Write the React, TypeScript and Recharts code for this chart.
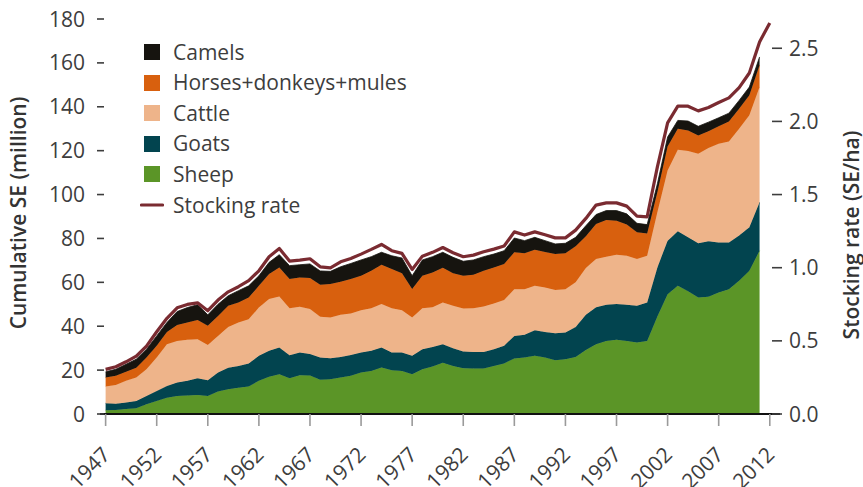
import React from 'react';
import { ComposedChart, Area, Line, XAxis, YAxis, Legend } from 'recharts';

const years = [
  1947, 1948, 1949, 1950, 1951, 1952, 1953, 1954, 1955, 1956, 1957,
  1958, 1959, 1960, 1961, 1962, 1963, 1964, 1965, 1966, 1967,
  1968, 1969, 1970, 1971, 1972, 1973, 1974, 1975, 1976, 1977,
  1978, 1979, 1980, 1981, 1982, 1983, 1984, 1985, 1986, 1987,
  1988, 1989, 1990, 1991, 1992, 1993, 1994, 1995, 1996, 1997,
  1998, 1999, 2000, 2001, 2002, 2003, 2004, 2005, 2006, 2007,
  2008, 2009, 2010, 2011, 2012,
];

const sheep = [
  1.7, 1.8, 2.3, 2.6, 4.4, 5.9, 7.4, 8.2, 8.4, 8.7, 8.2,
  10.2, 11.3, 12.0, 12.5, 15.1, 17.0, 18.1, 16.3, 17.7, 17.5,
  15.6, 15.8, 16.6, 17.4, 18.9, 19.6, 21.2, 19.9, 19.6, 18.1,
  20.4, 21.6, 23.4, 21.9, 20.9, 20.7, 20.7, 21.9, 23.0, 25.3,
  25.7, 26.5, 25.7, 24.5, 25.0, 26.0, 29.2, 31.8, 33.3, 33.8,
  33.3, 32.6, 33.3, 44.4, 54.6, 58.4, 55.9, 53.1, 53.4, 55.4,
  56.9, 60.7, 65.3, 74.4,
];

const goats = [
  3.2, 2.9, 2.9, 3.3, 3.8, 4.6, 5.4, 6.1, 6.7, 7.6, 7.2,
  8.7, 9.8, 9.9, 10.5, 11.4, 11.8, 12.2, 10.5, 10.3, 9.8,
  10.1, 9.6, 9.4, 9.5, 9.1, 9.2, 9.1, 8.1, 8.4, 8.4,
  9.1, 8.9, 8.4, 8.1, 7.6, 7.6, 7.6, 7.6, 8.1, 10.3,
  10.4, 11.7, 11.7, 12.3, 12.1, 13.7, 16.0, 16.8, 16.5, 16.3,
  16.5, 16.7, 17.5, 22.4, 24.4, 24.9, 24.6, 24.7, 25.3, 22.8,
  21.3, 20.6, 19.8, 22.1,
];

const cattle = [
  7.6, 8.5, 9.9, 10.7, 12.2, 15.2, 19.0, 19.0, 18.7, 17.8, 16.1,
  16.7, 18.6, 19.8, 20.2, 22.0, 23.6, 23.3, 21.4, 20.9, 20.5,
  18.6, 18.6, 19.2, 18.9, 19.3, 19.4, 19.8, 20.2, 19.3, 17.5,
  18.7, 18.2, 19.0, 19.3, 19.6, 19.9, 20.7, 20.9, 20.8, 21.3,
  20.8, 20.2, 20.3, 19.7, 19.7, 20.3, 21.3, 22.0, 21.9, 22.5,
  22.3, 21.3, 21.3, 25.1, 32.0, 37.1, 39.3, 40.8, 42.5, 44.9,
  46.0, 48.7, 51.0, 52.5,
];

const horses = [
  4.1, 4.2, 4.2, 4.5, 5.3, 5.4, 5.6, 7.3, 7.9, 8.7, 8.7,
  9.1, 9.6, 9.1, 9.9, 9.9, 11.4, 13.2, 13.3, 13.3, 14.2,
  14.6, 15.2, 15.1, 15.7, 15.7, 17.1, 17.9, 17.9, 16.8, 13.0,
  14.8, 15.8, 15.9, 14.8, 14.9, 15.3, 16.3, 16.4, 16.4, 16.8,
  16.3, 16.5, 16.1, 16.4, 16.4, 16.4, 14.5, 16.0, 16.7, 15.5,
  14.2, 12.2, 10.2, 9.2, 10.9, 9.6, 9.4, 8.3, 7.7, 8.0,
  9.1, 9.1, 9.1, 9.9,
];

const camels = [
  2.6, 3.0, 3.4, 3.9, 3.8, 4.5, 4.3, 6.1, 6.8, 7.0, 5.0,
  5.3, 4.6, 5.4, 5.3, 4.6, 5.3, 5.8, 6.1, 5.8, 6.4,
  6.3, 5.8, 6.8, 7.1, 7.2, 6.4, 5.7, 6.0, 7.0, 6.0,
  7.2, 7.2, 7.0, 7.3, 6.6, 6.7, 6.4, 6.1, 6.1, 6.5,
  5.8, 5.6, 5.2, 4.6, 4.6, 4.1, 4.8, 4.3, 4.3, 4.6,
  4.9, 4.1, 4.0, 3.8, 4.3, 3.8, 4.3, 4.2, 4.1, 3.9,
  3.8, 3.8, 3.8, 3.8,
];

const stockingRate = [
  0.305, 0.323, 0.357, 0.396, 0.464, 0.562, 0.654, 0.726, 0.749, 0.760, 0.706,
  0.779, 0.835, 0.870, 0.911, 0.979, 1.075, 1.132, 1.045, 1.052, 1.061,
  1.006, 0.999, 1.040, 1.063, 1.093, 1.125, 1.159, 1.116, 1.098, 0.988,
  1.079, 1.105, 1.138, 1.102, 1.075, 1.086, 1.109, 1.127, 1.148, 1.245,
  1.223, 1.245, 1.225, 1.204, 1.204, 1.257, 1.337, 1.428, 1.443, 1.443,
  1.421, 1.352, 1.348, 1.689, 1.990, 2.104, 2.104, 2.072, 2.095, 2.129,
  2.161, 2.231, 2.331, 2.543, 2.673,
];

const xTicks = [1947, 1952, 1957, 1962, 1967, 1972, 1977, 1982, 1987, 1992, 1997, 2002, 2007, 2012];
const leftTicks = [0, 20, 40, 60, 80, 100, 120, 140, 160, 180];
const rightTicks = [0, 0.5, 1.0, 1.5, 2.0, 2.5];

const FONT = '"Open Sans", "DejaVu Sans", sans-serif';
const TEXT = '#3d3d3d';

const COLORS = {
  sheep: '#5b9527',
  goats: '#02444f',
  cattle: '#eeb48a',
  horses: '#d8600e',
  camels: '#16140f',
  rate: '#7a2b31',
};

const legendItems = [
  { label: 'Camels', color: COLORS.camels, kind: 'square' },
  { label: 'Horses+donkeys+mules', color: COLORS.horses, kind: 'square' },
  { label: 'Cattle', color: COLORS.cattle, kind: 'square' },
  { label: 'Goats', color: COLORS.goats, kind: 'square' },
  { label: 'Sheep', color: COLORS.sheep, kind: 'square' },
  { label: 'Stocking rate', color: COLORS.rate, kind: 'line' },
];

const pick = (arr: number[], i: number) => (i < arr.length ? arr[i] : null);

const data = years.map((year, i) => ({
  year,
  sheep: pick(sheep, i),
  goats: pick(goats, i),
  cattle: pick(cattle, i),
  horses: pick(horses, i),
  camels: pick(camels, i),
  rate: pick(stockingRate, i),
}));

const LeftTick = (props: any) => {
  const { x, y, payload } = props;
  return (
    <g>
      <line x1={x - 3} x2={x + 4} y1={y} y2={y} stroke={TEXT} strokeWidth={1.6} />
      <text x={x - 15} y={y} dy="0.36em" textAnchor="end" fontFamily={FONT} fontSize={21} fill={TEXT}>
        {payload.value}
      </text>
    </g>
  );
};

const RightTick = (props: any) => {
  const { x, y, payload } = props;
  return (
    <g>
      <line x1={x - 8} x2={x + 2} y1={y} y2={y} stroke={TEXT} strokeWidth={1.6} />
      <text x={x + 9} y={y} dy="0.36em" textAnchor="start" fontFamily={FONT} fontSize={21} fill={TEXT}>
        {Number(payload.value).toFixed(1)}
      </text>
    </g>
  );
};

const XTick = (props: any) => {
  const { x, y, payload } = props;
  const ax = x + 6;
  const ay = y + 28;
  return (
    <text
      x={ax}
      y={ay}
      textAnchor="end"
      transform={`rotate(-45 ${ax} ${ay})`}
      fontFamily={FONT}
      fontSize={21}
      fill={TEXT}
    >
      {payload.value}
    </text>
  );
};

const LegendContent = () => (
  <div style={{ fontFamily: FONT, fontSize: 21, color: TEXT }}>
    {legendItems.map((it) => (
      <div key={it.label} style={{ height: 30.6, display: 'flex', alignItems: 'center', whiteSpace: 'nowrap' }}>
        <svg width={24} height={18} style={{ marginRight: 9, flex: 'none' }}>
          {it.kind === 'square' ? (
            <rect x={4} y={1} width={16} height={16} fill={it.color} />
          ) : (
            <line x1={1.5} x2={22.5} y1={9} y2={9} stroke={it.color} strokeWidth={3.2} strokeLinecap="round" />
          )}
        </svg>
        <span style={{ lineHeight: '30.6px' }}>{it.label}</span>
      </div>
    ))}
  </div>
);

export default function App() {
  return (
    <div style={{ position: 'absolute', left: 0, top: 0, width: 863, height: 487, background: '#fff' }}>
      <ComposedChart width={863} height={487} data={data} margin={{ top: 19, right: 0, bottom: 0, left: 0 }}>
        <Legend
          layout="vertical"
          align="center"
          verticalAlign="middle"
          content={<LegendContent />}
          wrapperStyle={{ position: 'absolute', left: 140, top: 36.7, width: 320 }}
        />
        <YAxis
          yAxisId="left"
          orientation="left"
          width={100}
          domain={[0, 180]}
          ticks={leftTicks}
          type="number"
          axisLine={false}
          tickLine={false}
          tickSize={0}
          tickMargin={0}
          tick={<LeftTick />}
          allowDataOverflow
          label={{
            content: () => (
              <text
                x={18}
                y={213}
                transform="rotate(-90 18 213)"
                textAnchor="middle"
                dominantBaseline="central"
                fontFamily={FONT}
                fontSize={21}
                fontWeight={600}
                fill="#333"
              >
                Cumulative SE (million)
              </text>
            ),
          }}
        />
        <YAxis
          yAxisId="right"
          orientation="right"
          width={83}
          domain={[0, 2.7]}
          ticks={rightTicks}
          type="number"
          axisLine={false}
          tickLine={false}
          tickSize={0}
          tickMargin={0}
          tick={<RightTick />}
          allowDataOverflow
          label={{
            content: () => (
              <text
                x={851}
                y={235}
                transform="rotate(-90 851 235)"
                textAnchor="middle"
                dominantBaseline="central"
                fontFamily={FONT}
                fontSize={21}
                fontWeight={600}
                fill="#333"
              >
                Stocking rate (SE/ha)
              </text>
            ),
          }}
        />
        <Area yAxisId="left" type="linear" dataKey="sheep" stackId="a" fill={COLORS.sheep} stroke={COLORS.sheep} strokeWidth={0.8} fillOpacity={1} isAnimationActive={false} />
        <Area yAxisId="left" type="linear" dataKey="goats" stackId="a" fill={COLORS.goats} stroke={COLORS.goats} strokeWidth={0.8} fillOpacity={1} isAnimationActive={false} />
        <Area yAxisId="left" type="linear" dataKey="cattle" stackId="a" fill={COLORS.cattle} stroke={COLORS.cattle} strokeWidth={0.8} fillOpacity={1} isAnimationActive={false} />
        <Area yAxisId="left" type="linear" dataKey="horses" stackId="a" fill={COLORS.horses} stroke={COLORS.horses} strokeWidth={0.8} fillOpacity={1} isAnimationActive={false} />
        <Area yAxisId="left" type="linear" dataKey="camels" stackId="a" fill={COLORS.camels} stroke={COLORS.camels} strokeWidth={0.8} fillOpacity={1} isAnimationActive={false} />
        <Line yAxisId="right" type="linear" dataKey="rate" stroke={COLORS.rate} strokeWidth={3.2} dot={false} activeDot={false} strokeLinejoin="round" isAnimationActive={false} />
        <XAxis
          dataKey="year"
          type="number"
          domain={[1946.45, 2013]}
          ticks={xTicks}
          allowDataOverflow
          height={73}
          axisLine={{ stroke: '#111', strokeWidth: 2 }}
          tickLine={{ stroke: '#9a9a9a', strokeWidth: 1.6 }}
          tickSize={12}
          tickMargin={2}
          tick={<XTick />}
          interval={0}
        />
      </ComposedChart>
    </div>
  );
}
